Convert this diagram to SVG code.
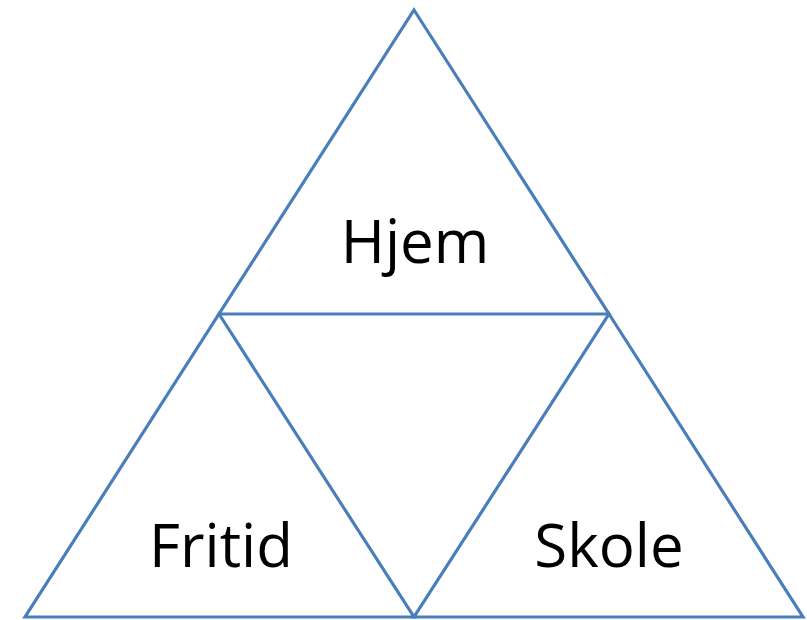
<svg xmlns="http://www.w3.org/2000/svg" width="807" height="620" viewBox="0 0 807 620">
<style>
.tri{fill:none;stroke:#4a7ebb;stroke-width:3.2;stroke-linejoin:miter}
.lbl{font-family:"Open Sans","Liberation Sans",sans-serif;font-size:60px;fill:#000;text-anchor:middle}
</style>
<rect width="807" height="620" fill="#fff"/>
<g id="hjem">
<polygon class="tri" points="414,10 609,314 219,314"/>
<text class="lbl" x="415" y="263">Hjem</text>
</g>
<g id="fritid">
<polygon class="tri" points="219,314 414,617 25,617"/>
<text class="lbl" x="221" y="567">Fritid</text>
</g>
<g id="skole">
<polygon class="tri" points="609,314 803,617 414,617"/>
<text class="lbl" x="609" y="567">Skole</text>
</g>
<g id="connectors"></g>
</svg>
